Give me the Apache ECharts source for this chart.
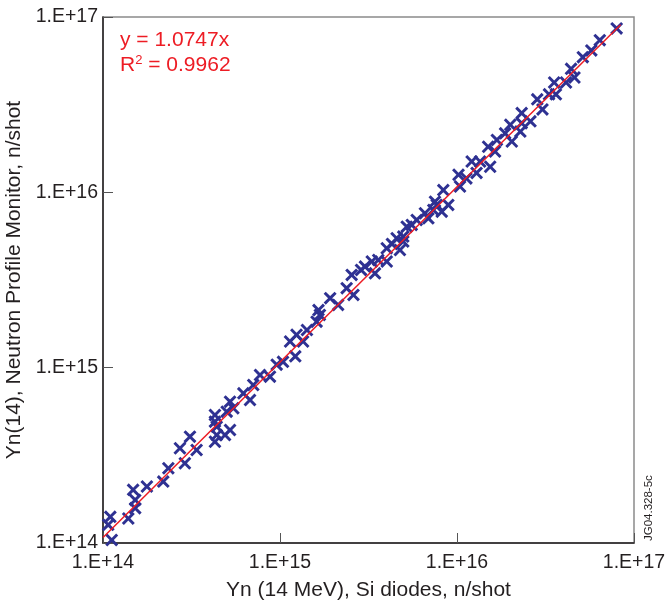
<!DOCTYPE html>
<html>
<head>
<meta charset="utf-8">
<script src="https://cdn.jsdelivr.net/npm/echarts@6/dist/echarts.min.js"></script>
<style>html,body{margin:0;padding:0;background:#fff}#c{width:665px;height:605px}</style>
</head>
<body>
<div id="c"></div>
<script>
// Si diodes yield (x) and Neutron Profile Monitor yield (y), n/shot
var siDiodes = [
  1.12e14,1.10e14,1.07e14,1.39e14,1.52e14,1.48e14,1.52e14,1.77e14,2.19e14,2.34e14,
  2.90e14,2.72e14,3.10e14,3.38e14,4.29e14,4.39e14,4.89e14,4.29e14,4.29e14,5.00e14,
  4.39e14,5.22e14,5.22e14,5.45e14,6.21e14,6.77e14,7.06e14,7.71e14,8.78e14,9.58e14,
  1.04e15,1.22e15,1.14e15,1.24e15,1.35e15,1.42e15,1.61e15,1.68e15,1.65e15,1.92e15,
  2.13e15,2.38e15,2.60e15,2.54e15,3.02e15,3.30e15,3.44e15,3.59e15,4.01e15,4.01e15,
  4.56e15,4.76e15,4.97e15,5.20e15,5.92e15,6.59e15,6.89e15,7.35e15,7.68e15,4.97e15,
  5.55e15,7.51e15,8.20e15,8.37e15,8.93e15,1.02e16,1.04e16,1.13e16,1.21e16,1.29e16,
  1.35e16,1.54e16,1.50e16,1.68e16,1.87e16,2.04e16,2.32e16,2.32e16,1.64e16,2.00e16,
  2.28e16,2.60e16,2.84e16,3.04e16,3.31e16,3.54e16,3.62e16,4.13e16,4.41e16,4.61e16,
  5.14e16,5.74e16,6.41e16,7.98e16,2.87e15,4.29e15
];
var profileMonitor = [
  1.04e14,1.41e14,1.27e14,1.38e14,1.58e14,2.01e14,1.76e14,2.10e14,2.24e14,2.67e14,
  2.85e14,3.47e14,4.04e14,3.39e14,3.78e14,4.13e14,4.13e14,4.92e14,5.37e14,5.61e14,
  4.61e14,4.41e14,6.40e14,5.87e14,7.14e14,6.54e14,7.96e14,9.08e14,8.89e14,1.04e15,
  1.08e15,1.16e15,1.41e15,1.54e15,1.41e15,1.64e15,1.83e15,2.00e15,2.13e15,2.49e15,
  2.28e15,2.84e15,2.60e15,3.38e15,3.77e15,4.03e15,3.45e15,4.11e15,4.80e15,4.03e15,
  5.47e15,4.69e15,5.59e15,6.37e15,6.96e15,7.60e15,7.11e15,7.94e15,8.48e15,5.24e15,
  6.52e15,8.85e15,7.76e15,1.03e16,8.48e15,1.26e16,1.08e16,1.20e16,1.50e16,1.29e16,
  1.50e16,1.40e16,1.82e16,1.99e16,2.17e16,1.95e16,2.48e16,2.83e16,1.71e16,2.43e16,
  2.22e16,2.54e16,3.39e16,2.97e16,3.62e16,4.23e16,3.62e16,4.23e16,5.06e16,4.52e16,
  5.90e16,6.45e16,7.38e16,8.61e16,3.61e15,5.08e15
];
var slope = 1.0747;
var fitX = [1e14, 8.4e16];
var tickExponents = [14, 15, 16, 17];
var fitEquation = 'y = 1.0747x';
var rSquared = '0.9962';

var pts = siDiodes.map(function(v, i){ return [v, profileMonitor[i]]; });
var fit = fitX.map(function(v){ return [v, slope * v]; });
function fmt(v){ var e = Math.round(Math.log10(v)); return tickExponents.indexOf(e) >= 0 ? '1.E+' + e : ''; }

var crossPath = 'path://M0,1.6L1.6,0L5,3.4L8.4,0L10,1.6L6.6,5L10,8.4L8.4,10L5,6.6L1.6,10L0,8.4L3.4,5Z';
var FONT = 'Liberation Sans, Arial, Helvetica, sans-serif';

var chart = echarts.init(document.getElementById('c'), null, {renderer: 'canvas'});
chart.setOption({
  animation: false,
  backgroundColor: '#fff',
  grid: {left: 103, right: 31, top: 17, bottom: 62, show: true, borderColor: '#8a8a8a', borderWidth: 1.5,
         backgroundColor: 'transparent', containLabel: false, outerBoundsMode: 'none'},
  xAxis: {
    type: 'log', logBase: 10, min: 1e14, max: 1e17,
    name: 'Yn (14 MeV), Si diodes, n/shot', nameLocation: 'middle', nameGap: 37,
    nameTextStyle: {fontFamily: FONT, fontSize: 21, color: '#231f20'},
    axisLine: {lineStyle: {color: '#231f20', width: 1.5}},
    axisTick: {inside: true, length: 10, lineStyle: {color: '#555', width: 1}},
    minorTick: {show: false},
    splitLine: {show: false},
    axisLabel: {formatter: fmt, fontFamily: FONT, fontSize: 19.5, color: '#231f20', margin: 10, showMinLabel: true, showMaxLabel: true, hideOverlap: false}
  },
  yAxis: {
    type: 'log', logBase: 10, min: 1e14, max: 1e17,
    name: 'Yn(14), Neutron Profile Monitor, n/shot', nameLocation: 'middle', nameGap: 68,
    nameTextStyle: {fontFamily: FONT, fontSize: 21, color: '#231f20'},
    axisLine: {lineStyle: {color: '#231f20', width: 1.5}},
    axisTick: {inside: true, length: 10, lineStyle: {color: '#555', width: 1}},
    minorTick: {show: false},
    splitLine: {show: false},
    axisLabel: {formatter: fmt, fontFamily: FONT, fontSize: 19.5, color: '#231f20', margin: 5, showMinLabel: true, showMaxLabel: true, hideOverlap: false}
  },
  series: [
    {
      type: 'scatter', data: pts, symbol: crossPath, symbolSize: 13,
      itemStyle: {color: '#2e3192', opacity: 1}, z: 2
    },
    {
      type: 'line', data: fit, symbol: 'none',
      lineStyle: {color: '#ed1c24', width: 1.5}, z: 3
    }
  ],
  graphic: [
    {type: 'text', left: 120, top: 30, z: 10,
     style: {text: fitEquation, fontFamily: FONT, fontSize: 21, fill: '#ed1c24'}},
    {type: 'text', left: 120, top: 54, z: 10,
     style: {text: '{a|R}{s|2}{a| = ' + rSquared + '}', fontFamily: FONT, fontSize: 21, fill: '#ed1c24',
       rich: {a: {fontFamily: FONT, fontSize: 21, color: '#ed1c24', verticalAlign: 'bottom'},
              s: {fontFamily: FONT, fontSize: 13, color: '#ed1c24', verticalAlign: 'top', padding: [0, 0, 9, 0]}}}},
    {type: 'text', x: 643, y: 541, rotation: Math.PI / 2, z: 10,
     style: {text: 'JG04.328-5c', fontFamily: FONT, fontSize: 11.5, fill: '#231f20', align: 'left', verticalAlign: 'top'}}
  ]
});
</script>
</body>
</html>
